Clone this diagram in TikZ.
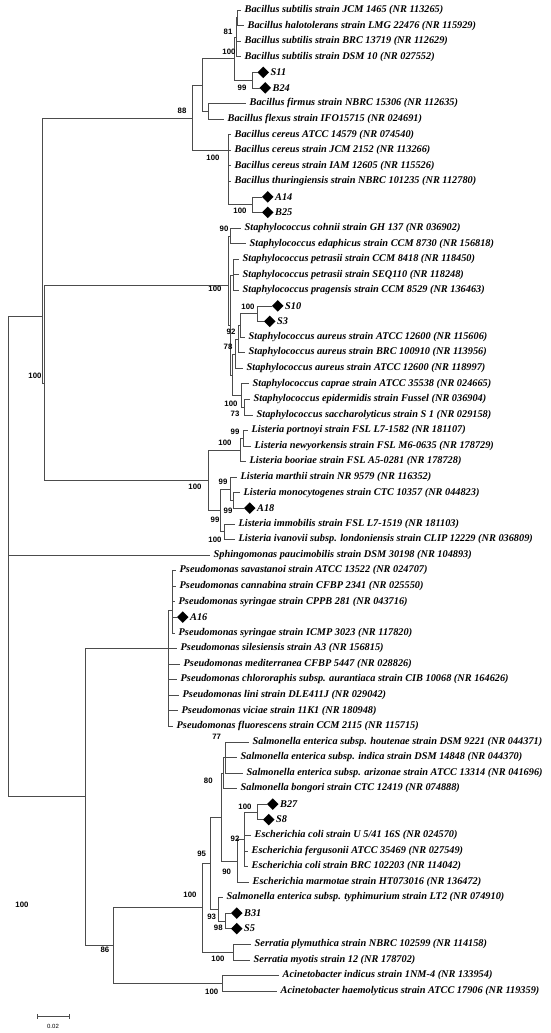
\documentclass[tikz,border=0pt]{standalone}
\usepackage{fontspec}
\setmainfont{Liberation Serif}
\newfontfamily\bsfont{Liberation Sans}
\usetikzlibrary{shapes.geometric}
\begin{document}
\begin{tikzpicture}[x=1pt,y=-1pt,
  br/.style={draw=black!70, line width=0.6pt},
  leaf/.style={anchor=west, inner ysep=0.5pt, inner xsep=3.5pt, font=\fontsize{10.3}{11}\selectfont\bfseries\itshape},
  dlab/.style={anchor=west, inner ysep=0.5pt, inner xsep=1.5pt, font=\fontsize{10.3}{11}\selectfont\bfseries\itshape},
  dm/.style={diamond, fill=black, inner sep=0pt, minimum width=11.5pt, minimum height=11.5pt, anchor=west, outer sep=0pt},
  bs/.style={font=\bsfont\fontsize{7.8}{8}\selectfont\bfseries, inner sep=0pt},
]
\useasboundingbox (0,0) rectangle (550,1033);
% ---------- leaves ----------
\node[leaf] (l1) at (241,10) {Bacillus subtilis strain JCM 1465 (NR 113265)};
\node[leaf] (l2) at (244,25.6) {Bacillus halotolerans strain LMG 22476 (NR 115929)};
\node[leaf] (l3) at (241,41.1) {Bacillus subtilis strain BRC 13719 (NR 112629)};
\node[leaf] (l4) at (241,56.7) {Bacillus subtilis strain DSM 10 (NR 027552)};
\node[dm] (l5) at (257.5,72.3) {}; \node[dlab] (t5) at (l5.east) {S11};
\node[dm] (l6) at (259.5,87.9) {}; \node[dlab] (t6) at (l6.east) {B24};
\node[leaf] (l7) at (246,103.4) {Bacillus firmus strain NBRC 15306 (NR 112635)};
\node[leaf] (l8) at (224,119) {Bacillus flexus strain IFO15715 (NR 024691)};
\node[leaf] (l9) at (231,134.6) {Bacillus cereus ATCC 14579 (NR 074540)};
\node[leaf] (l10) at (231,150.1) {Bacillus cereus strain JCM 2152 (NR 113266)};
\node[leaf] (l11) at (231,165.7) {Bacillus cereus strain IAM 12605 (NR 115526)};
\node[leaf] (l12) at (231,181.3) {Bacillus thuringiensis strain NBRC 101235 (NR 112780)};
\node[dm] (l13) at (262,196.8) {}; \node[dlab] (t13) at (l13.east) {A14};
\node[dm] (l14) at (262,212.4) {}; \node[dlab] (t14) at (l14.east) {B25};
\node[leaf] (l15) at (241,228) {Staphylococcus cohnii strain GH 137 (NR 036902)};
\node[leaf] (l16) at (246,243.6) {Staphylococcus edaphicus strain CCM 8730 (NR 156818)};
\node[leaf] (l17) at (239,259.1) {Staphylococcus petrasii strain CCM 8418 (NR 118450)};
\node[leaf] (l18) at (239,274.7) {Staphylococcus petrasii strain SEQ110 (NR 118248)};
\node[leaf] (l19) at (239,290.3) {Staphylococcus pragensis strain CCM 8529 (NR 136463)};
\node[dm] (l20) at (272,305.8) {}; \node[dlab] (t20) at (l20.east) {S10};
\node[dm] (l21) at (264,321.4) {}; \node[dlab] (t21) at (l21.east) {S3};
\node[leaf] (l22) at (245,337) {Staphylococcus aureus strain ATCC 12600 (NR 115606)};
\node[leaf] (l23) at (245,352.5) {Staphylococcus aureus strain BRC 100910 (NR 113956)};
\node[leaf] (l24) at (243,368.1) {Staphylococcus aureus strain ATCC 12600 (NR 118997)};
\node[leaf] (l25) at (249,383.7) {Staphylococcus caprae strain ATCC 35538 (NR 024665)};
\node[leaf] (l26) at (250,399.3) {Staphylococcus epidermidis strain Fussel (NR 036904)};
\node[leaf] (l27) at (253,414.8) {Staphylococcus saccharolyticus strain S 1 (NR 029158)};
\node[leaf] (l28) at (248,430.4) {Listeria portnoyi strain FSL L7-1582 (NR 181107)};
\node[leaf] (l29) at (251,446) {Listeria newyorkensis strain FSL M6-0635 (NR 178729)};
\node[leaf] (l30) at (246,461.5) {Listeria booriae strain FSL A5-0281 (NR 178728)};
\node[leaf] (l31) at (237,477.1) {Listeria marthii strain NR 9579 (NR 116352)};
\node[leaf] (l32) at (240,492.7) {Listeria monocytogenes strain CTC 10357 (NR 044823)};
\node[dm] (l33) at (244,508.2) {}; \node[dlab] (t33) at (l33.east) {A18};
\node[leaf] (l34) at (235,523.8) {Listeria immobilis strain FSL L7-1519 (NR 181103)};
\node[leaf] (l35) at (235,539.4) {Listeria ivanovii subsp. londoniensis strain CLIP 12229 (NR 036809)};
\node[leaf] (l36) at (210,555) {Sphingomonas paucimobilis strain DSM 30198 (NR 104893)};
\node[leaf] (l37) at (176,570.5) {Pseudomonas savastanoi strain ATCC 13522 (NR 024707)};
\node[leaf] (l38) at (176,586.1) {Pseudomonas cannabina strain CFBP 2341 (NR 025550)};
\node[leaf] (l39) at (175,601.7) {Pseudomonas syringae strain CPPB 281 (NR 043716)};
\node[dm] (l40) at (177,617.2) {}; \node[dlab] (t40) at (l40.east) {A16};
\node[leaf] (l41) at (175,632.8) {Pseudomonas syringae strain ICMP 3023 (NR 117820)};
\node[leaf] (l42) at (177,648.4) {Pseudomonas silesiensis strain A3 (NR 156815)};
\node[leaf] (l43) at (180,663.9) {Pseudomonas mediterranea CFBP 5447 (NR 028826)};
\node[leaf] (l44) at (177,679.5) {Pseudomonas chlororaphis subsp. aurantiaca strain CIB 10068 (NR 164626)};
\node[leaf] (l45) at (179,695.1) {Pseudomonas lini strain DLE411J (NR 029042)};
\node[leaf] (l46) at (178,710.7) {Pseudomonas viciae strain 11K1 (NR 180948)};
\node[leaf] (l47) at (173,726.2) {Pseudomonas fluorescens strain CCM 2115 (NR 115715)};
\node[leaf] (l48) at (249,741.8) {Salmonella enterica subsp. houtenae strain DSM 9221 (NR 044371)};
\node[leaf] (l49) at (237,757.4) {Salmonella enterica subsp. indica strain DSM 14848 (NR 044370)};
\node[leaf] (l50) at (243,772.9) {Salmonella enterica subsp. arizonae strain ATCC 13314 (NR 041696)};
\node[leaf] (l51) at (237,788.5) {Salmonella bongori strain CTC 12419 (NR 074888)};
\node[dm] (l52) at (267,804.1) {}; \node[dlab] (t52) at (l52.east) {B27};
\node[dm] (l53) at (263,819.6) {}; \node[dlab] (t53) at (l53.east) {S8};
\node[leaf] (l54) at (251,835.2) {Escherichia coli strain U 5/41 16S (NR 024570)};
\node[leaf] (l55) at (248,850.8) {Escherichia fergusonii ATCC 35469 (NR 027549)};
\node[leaf] (l56) at (248,866.3) {Escherichia coli strain BRC 102203 (NR 114042)};
\node[leaf] (l57) at (249,881.9) {Escherichia marmotae strain HT073016 (NR 136472)};
\node[leaf] (l58) at (223,897.5) {Salmonella enterica subsp. typhimurium strain LT2 (NR 074910)};
\node[dm] (l59) at (231,913.1) {}; \node[dlab] (t59) at (l59.east) {B31};
\node[dm] (l60) at (231,928.6) {}; \node[dlab] (t60) at (l60.east) {S5};
\node[leaf] (l61) at (251,944.2) {Serratia plymuthica strain NBRC 102599 (NR 114158)};
\node[leaf] (l62) at (250,959.8) {Serratia myotis strain 12 (NR 178702)};
\node[leaf] (l63) at (279,975.3) {Acinetobacter indicus strain 1NM-4 (NR 133954)};
\node[leaf] (l64) at (277,990.9) {Acinetobacter haemolyticus strain ATCC 17906 (NR 119359)};
% ---------- internal nodes ----------
\coordinate (n81) at (237.5,17.8);
\coordinate (nbs) at (236,37.3);
\coordinate (n99a) at (252,80.1);
\coordinate (nx) at (234,58.7);
\coordinate (nz) at (208,111.2);
\coordinate (ny) at (202,85);
\coordinate (nab) at (252,204.6);
\coordinate (nc) at (228,150);
\coordinate (nb) at (192,118);
\coordinate (n90s) at (230,236);
\coordinate (npet) at (233,275);
\coordinate (ns10) at (257,313.6);
\coordinate (n92s) at (240,325);
\coordinate (n78) at (238,339);
\coordinate (nx2) at (235,354);
\coordinate (n73) at (244,407);
\coordinate (ncap) at (241,395);
\coordinate (ns3) at (232,375);
\coordinate (ns2) at (230,325);
\coordinate (nst) at (228,285);
\coordinate (n99b) at (243,438.2);
\coordinate (n100d) at (240,450);
\coordinate (na) at (233,500.5);
\coordinate (nbl) at (230,489);
\coordinate (nd) at (224,531.6);
\coordinate (ncl) at (220,510);
\coordinate (nl) at (208,480);
\coordinate (nsl) at (44,383);
\coordinate (nf) at (42,316);
\coordinate (np2) at (172,610);
\coordinate (np) at (168,648);
\coordinate (n77) at (225,757);
\coordinate (n80) at (223,773);
\coordinate (nn) at (221,817);
\coordinate (nb27) at (257,812);
\coordinate (n92e) at (244,839);
\coordinate (n90e) at (237,861);
\coordinate (n98) at (225,921);
\coordinate (n93) at (218,909);
\coordinate (n95) at (210,863);
\coordinate (nser) at (233,952);
\coordinate (n100e) at (202,907);
\coordinate (nac) at (222,983);
\coordinate (n86) at (113,945);
\coordinate (nq) at (85,796);
\coordinate (root) at (8,556);
% ---------- branches ----------
\foreach \p/\c in {n81/l1.west,n81/l2.west,nbs/n81,nbs/l3.west,nbs/l4.west,
  n99a/l5.west,n99a/l6.west,nx/nbs,nx/n99a,nz/l7.west,nz/l8.west,ny/nx,ny/nz,
  nc/l9.west,nc/l10.west,nc/l11.west,nc/l12.west,nc/nab,nab/l13.west,nab/l14.west,
  nb/ny,nb/nc,
  n90s/l15.west,n90s/l16.west,npet/l17.west,npet/l18.west,npet/l19.west,
  ns10/l20.west,ns10/l21.west,n92s/ns10,n92s/l22.west,n78/n92s,n78/l23.west,
  nx2/n78,nx2/l24.west,n73/l26.west,n73/l27.west,ncap/l25.west,ncap/n73,
  ns3/nx2,ns3/ncap,ns2/npet,ns2/ns3,nst/n90s,nst/ns2,
  n99b/l28.west,n99b/l29.west,n100d/n99b,n100d/l30.west,
  na/l32.west,na/l33.west,nbl/l31.west,nbl/na,nd/l34.west,nd/l35.west,
  ncl/nbl,ncl/nd,nl/n100d,nl/ncl,
  nsl/nst,nsl/nl,nf/nb,nf/nsl,
  np2/l37.west,np2/l38.west,np2/l39.west,np2/l40.west,np2/l41.west,
  np/np2,np/l42.west,np/l43.west,np/l44.west,np/l45.west,np/l46.west,np/l47.west,
  n77/l48.west,n77/l49.west,n77/l50.west,n80/n77,n80/l51.west,
  nb27/l52.west,nb27/l53.west,n92e/nb27,n92e/l54.west,n92e/l55.west,n92e/l56.west,
  n90e/n92e,n90e/l57.west,nn/n80,nn/n90e,
  n98/l59.west,n98/l60.west,n93/l58.west,n93/n98,n95/nn,n95/n93,
  nser/l61.west,nser/l62.west,n100e/n95,n100e/nser,
  nac/l63.west,nac/l64.west,n86/n100e,n86/nac,
  nq/np,nq/n86,
  root/nf,root/l36.west,root/nq}
  \draw[br] (\p) |- (\c);
% ---------- bootstrap values ----------
\node[bs] (b1) at (228,31.7) {81};
\node[bs] (b2) at (229,52) {100};
\node[bs] (b3) at (242,88.3) {99};
\node[bs] (b4) at (182,111.3) {88};
\node[bs] (b5) at (213,158) {100};
\node[bs] (b6) at (240,211) {100};
\node[bs] (b7) at (224,229) {90};
\node[bs] (b8) at (215,289) {100};
\node[bs] (b9) at (248,307.3) {100};
\node[bs] (b10) at (231,332.3) {92};
\node[bs] (b11) at (228,347.3) {78};
\node[bs] (b12) at (231,403.7) {100};
\node[bs] (b13) at (235,413.7) {73};
\node[bs] (b14) at (235,432) {99};
\node[bs] (b15) at (225,442.7) {100};
\node[bs] (b16) at (195,486.7) {100};
\node[bs] (b17) at (223,481.7) {99};
\node[bs] (b18) at (228,510.7) {99};
\node[bs] (b19) at (215,520) {99};
\node[bs] (b20) at (215,539.7) {100};
\node[bs] (b21) at (35,376) {100};
\node[bs] (b22) at (216.7,737.3) {77};
\node[bs] (b23) at (208.3,781.3) {80};
\node[bs] (b24) at (245,807) {100};
\node[bs] (b25) at (235,838.7) {92};
\node[bs] (b26) at (201.7,853.7) {95};
\node[bs] (b27) at (226.7,872) {90};
\node[bs] (b28) at (190,895) {100};
\node[bs] (b29) at (211.7,916.7) {93};
\node[bs] (b30) at (218.3,928.3) {98};
\node[bs] (b31) at (218,959) {100};
\node[bs] (b32) at (211.7,991.7) {100};
\node[bs] (b33) at (105,950) {86};
\node[bs] (b34) at (22,905) {100};
% ---------- scale bar ----------
\coordinate (sb1) at (37,1016);
\coordinate (sb2) at (69,1016);
\draw[br, line width=0.8pt] (sb1) -- (sb2);
\draw[br, line width=0.8pt] ([yshift=-2.5pt]sb1) -- ([yshift=2.5pt]sb1);
\draw[br, line width=0.8pt] ([yshift=-2.5pt]sb2) -- ([yshift=2.5pt]sb2);
\node[font=\bsfont\fontsize{6}{7}\selectfont] (sbl) at (53,1026) {0.02};
\end{tikzpicture}
\end{document}
